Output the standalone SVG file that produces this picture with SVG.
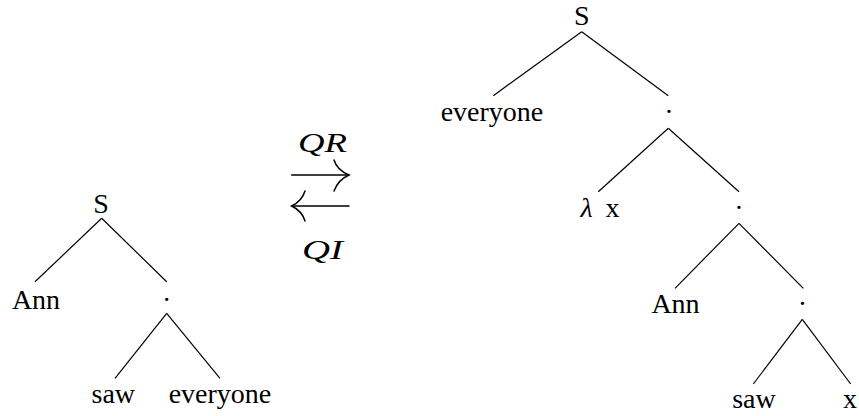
<svg xmlns="http://www.w3.org/2000/svg" width="859" height="416" viewBox="0 0 859 416">
<style>
text{font-family:"Liberation Serif","Times New Roman",serif;font-size:28px;fill:#000;text-anchor:middle}
.it{font-style:italic}
.e{stroke:#000;stroke-width:1.2;fill:none}
.ar{stroke:#000;stroke-width:1.5;fill:none;stroke-linecap:round}
</style>
<rect width="859" height="416" fill="#fff"/>
<g id="connectors">
<line class="e" x1="101.7" y1="218.3" x2="35" y2="281.7"/>
<line class="e" x1="101.7" y1="218.3" x2="166.7" y2="281.7"/>
<line class="e" x1="166.7" y1="313.3" x2="115" y2="378.3"/>
<line class="e" x1="166.7" y1="313.3" x2="220" y2="378.3"/>
<line class="e" x1="581.7" y1="31.7" x2="493.3" y2="95.7"/>
<line class="e" x1="581.7" y1="31.7" x2="668.3" y2="95.7"/>
<line class="e" x1="668.3" y1="128.3" x2="598.3" y2="191.7"/>
<line class="e" x1="668.3" y1="128.3" x2="739" y2="191.7"/>
<line class="e" x1="739" y1="223.3" x2="675" y2="288.3"/>
<line class="e" x1="739" y1="223.3" x2="803.3" y2="288.3"/>
<line class="e" x1="802.3" y1="319.3" x2="753.3" y2="384"/>
<line class="e" x1="802.3" y1="319.3" x2="850.7" y2="384"/>
</g>
<g id="arrows">
<line class="ar" x1="291.7" y1="175" x2="348.5" y2="175"/>
<path class="ar" d="M334 160 Q337 170 349 175 Q338 180 334 191"/>
<line class="ar" x1="292" y1="206" x2="349" y2="206"/>
<path class="ar" d="M305 191 Q302 201 291.7 206 Q302 211 305 221"/>
<text class="it" x="322.5" y="152.3" textLength="49" lengthAdjust="spacingAndGlyphs" font-size="32">QR</text>
<text class="it" x="322.5" y="259.3" textLength="41" lengthAdjust="spacingAndGlyphs" font-size="32">QI</text>
</g>
<g id="left-S"><text x="101" y="212.5">S</text></g>
<g id="left-Ann"><text x="36" y="309">Ann</text></g>
<g id="left-dot"><text x="166.7" y="309">·</text></g>
<g id="left-saw"><text x="113.3" y="403">saw</text></g>
<g id="left-everyone"><text x="220" y="403">everyone</text></g>
<g id="right-S"><text x="581.7" y="25">S</text></g>
<g id="right-everyone"><text x="492" y="121">everyone</text></g>
<g id="right-dot1"><text x="669" y="121">·</text></g>
<g id="right-lambda"><text x="586.5" y="217" class="it" font-size="31">λ</text><text x="612.5" y="217">x</text></g>
<g id="right-dot2"><text x="739" y="217">·</text></g>
<g id="right-Ann"><text x="675.5" y="313">Ann</text></g>
<g id="right-dot3"><text x="802.3" y="313">·</text></g>
<g id="right-saw"><text x="754" y="408">saw</text></g>
<g id="right-x"><text x="850" y="408">x</text></g>
</svg>
